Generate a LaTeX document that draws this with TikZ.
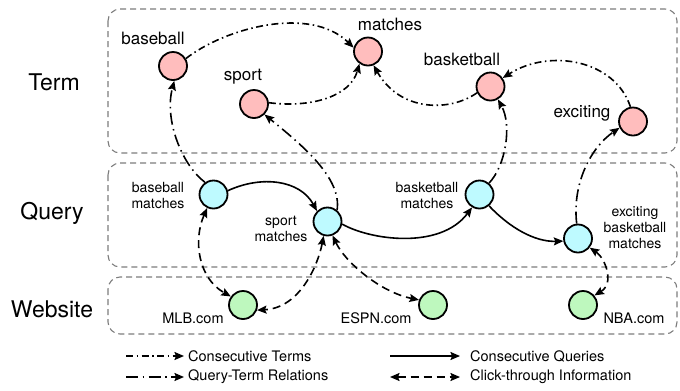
\documentclass[tikz,border=0pt]{standalone}
\usepackage{fontspec}
\setmainfont{TeX Gyre Heros}
\usetikzlibrary{arrows.meta}

\definecolor{termfill}{RGB}{255,189,189}
\definecolor{queryfill}{RGB}{190,250,255}
\definecolor{webfill}{RGB}{190,248,190}
\definecolor{layerline}{RGB}{125,125,125}

\begin{document}
\begin{tikzpicture}[x=1bp,y=-1bp,
  layerbox/.style={draw=layerline, line width=1.1bp, dash pattern=on 6bp off 4bp, rounded corners=12bp},
  layerlabel/.style={font=\fontsize{23bp}{27bp}\selectfont, inner sep=0},
  vertex/.style={circle, draw=black, line width=1.8bp, minimum size=28bp, inner sep=0},
  termv/.style={vertex, fill=termfill},
  queryv/.style={vertex, fill=queryfill},
  webv/.style={vertex, fill=webfill},
  termlab/.style={font=\fontsize{17bp}{19bp}\selectfont, inner sep=0},
  querylab/.style={font=\fontsize{14bp}{16bp}\selectfont, inner sep=0, align=center},
  weblab/.style={font=\fontsize{14.5bp}{16bp}\selectfont, inner sep=0},
  legtext/.style={font=\fontsize{14.5bp}{16bp}\selectfont, inner sep=0, anchor=west},
  tip/.tip={Stealth[length=9.5bp,width=8bp,inset=1.5bp]},
  cterm/.style={line width=1.6bp, dash pattern=on 7bp off 3.5bp on 1.5bp off 3.5bp, -tip},
  qterm/.style={line width=1.6bp, dash pattern=on 12bp off 4.5bp on 1.5bp off 4.5bp, -tip},
  cquery/.style={line width=1.6bp, -tip},
  click/.style={line width=1.6bp, dash pattern=on 8bp off 5bp, tip-tip}
]
\useasboundingbox (0,0) rectangle (680,390);

% layer frames
\draw[layerbox] (108,9) rectangle (677,153);
\draw[layerbox] (108,163) rectangle (677,267);
\draw[layerbox] (108,277) rectangle (677,334);

% layer names
\node[layerlabel] (lTerm) at (54,82) {Term};
\node[layerlabel] (lQuery) at (52,213) {Query};
\node[layerlabel] (lWeb) at (52,309) {Website};

% term vertices
\node[termv] (tBase) at (173,66) {};
\node[termv] (tSport) at (254,104) {};
\node[termv] (tMatch) at (368,51.5) {};
\node[termv] (tBask) at (490.5,86.5) {};
\node[termv] (tExc) at (633,121.5) {};
\node[termlab] (tBaseL) at (153,38) {baseball};
\node[termlab] (tSportL) at (243,77) {sport};
\node[termlab] (tMatchL) at (390,24) {matches};
\node[termlab] (tBaskL) at (462,59) {basketball};
\node[termlab] (tExcL) at (582,113) {exciting};

% query vertices
\node[queryv] (qBase) at (213.5,194.5) {};
\node[queryv] (qSport) at (327.5,221.5) {};
\node[queryv] (qBask) at (479.5,194.5) {};
\node[queryv] (qExc) at (578,238.5) {};
\node[querylab] (qBaseL) at (158,195) {baseball\\matches};
\node[querylab] (qSportL) at (281,229) {sport\\matches};
\node[querylab] (qBaskL) at (427,195) {basketball\\matches};
\node[querylab] (qExcL) at (635,228) {exciting\\basketball\\matches};

% website vertices
\node[webv] (wMLB) at (243,305) {};
\node[webv] (wESPN) at (433,305) {};
\node[webv] (wNBA) at (583,305) {};
\node[weblab] (wMLBL) at (193,318) {MLB.com};
\node[weblab] (wESPNL) at (376,318) {ESPN.com};
\node[weblab] (wNBAL) at (634,318) {NBA.com};

% consecutive terms
\draw[cterm] (tBase.30) .. controls (225,28) and (310,5) .. (tMatch.165);
\draw[cterm] (tSport.5) .. controls (310,108) and (350,97) .. (tMatch.235);
\draw[cterm] (tBask.205) .. controls (450,112) and (400,112) .. (tMatch.292);
\draw[cterm] (tExc.100) .. controls (615,60) and (550,48) .. (tBask.35);

% query-term relations
\draw[qterm] (qBase.125) .. controls (182,165) and (164,120) .. (tBase.275);
\draw[qterm] (qSport.50) .. controls (342,178) and (302,145) .. (tSport.315);
\draw[qterm] (qBask.50) .. controls (506,165) and (512,125) .. (tBask.300);
\draw[qterm] (qExc.95) .. controls (572,185) and (590,148) .. (tExc.205);

% consecutive queries
\draw[cquery] (qBase.15) .. controls (262,175) and (300,180) .. (qSport.135);
\draw[cquery] (qSport.-10) .. controls (370,240) and (440,250) .. (qBask.240);
\draw[cquery] (qBask.-50) .. controls (510,228) and (535,242) .. (qExc.190);

% click-through information
\draw[click] (qBase.245) .. controls (193,240) and (198,278) .. (wMLB.145);
\draw[click] (qSport.255) .. controls (318,265) and (300,308) .. (wMLB.-20);
\draw[click] (qSport.290) .. controls (345,262) and (380,292) .. (wESPN.160);
\draw[click] (qExc.-38) .. controls (605,258) and (615,283) .. (wNBA.40);

% legend
\coordinate (k1a) at (126,356); \coordinate (k1b) at (184,356);
\coordinate (k2a) at (126,377); \coordinate (k2b) at (184,377);
\coordinate (k3a) at (390,356); \coordinate (k3b) at (460,356);
\coordinate (k4a) at (390,377); \coordinate (k4b) at (460,377);
\draw[cterm] (k1a) -- (k1b);
\draw[qterm] (k2a) -- (k2b);
\draw[cquery] (k3a) -- (k3b);
\draw[click] (k4a) -- (k4b);
\node[legtext] (k1t) at (188,356) {Consecutive Terms};
\node[legtext] (k2t) at (188,377) {Query-Term Relations};
\node[legtext] (k3t) at (470,356) {Consecutive Queries};
\node[legtext] (k4t) at (470,377) {Click-through Information};
\end{tikzpicture}
\end{document}
